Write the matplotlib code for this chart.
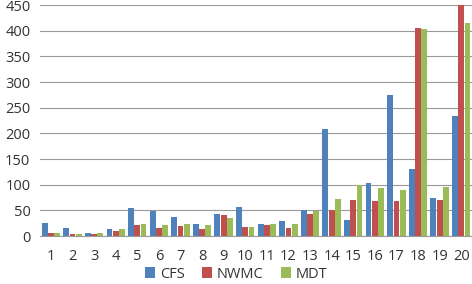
import matplotlib.pyplot as plt
import numpy as np

groups = list(range(1, 21))
cfs  = [25, 16, 6, 13, 55, 49, 37, 23, 42, 57, 24, 29, 51, 209, 32, 103, 275, 130, 74, 233]
nwmc = [6, 3, 3, 10, 21, 16, 20, 13, 41, 18, 21, 16, 42, 51, 71, 68, 68, 405, 70, 450]
mdt  = [6, 3, 5, 13, 23, 21, 23, 21, 35, 18, 24, 23, 49, 72, 99, 93, 90, 404, 96, 416]

series = [("CFS", cfs, "#4F81BD"), ("NWMC", nwmc, "#C0504D"), ("MDT", mdt, "#9BBB59")]

plt.rcParams["font.family"] = ["Open Sans", "DejaVu Sans"]

fig = plt.figure(figsize=(4.72, 2.84), dpi=100)
ax = fig.add_axes([0.085, 0.169, 0.915, 0.813])

x = np.array(groups)
w = 0.27
for i, (name, vals, col) in enumerate(series):
    ax.bar(x + (i - 1) * 0.29, vals, width=w, color=col, label=name, zorder=3)

ax.set_xlim(0.5, 20.5)
ax.set_ylim(0, 450)
ax.set_yticks(range(0, 451, 50))
ax.set_xticks(x)
ax.set_xticklabels([str(g) for g in groups])
ax.yaxis.grid(True, color="#9A9A9A", linewidth=0.8, zorder=0)
for s in ["top", "right", "left"]:
    ax.spines[s].set_visible(False)
ax.spines["bottom"].set_color("#9A9A9A")
ax.tick_params(axis="both", length=0, labelsize=10.5, colors="#333333")
ax.tick_params(axis="x", pad=9)
ax.tick_params(axis="y", pad=7)

fig.legend(loc="center", bbox_to_anchor=(0.5, 0.035), ncol=3, frameon=False,
           fontsize=10.5, handlelength=0.7, handleheight=0.7, handletextpad=0.3,
           columnspacing=1.2, labelcolor="#333333")

fig.savefig("out.png", dpi=100)
